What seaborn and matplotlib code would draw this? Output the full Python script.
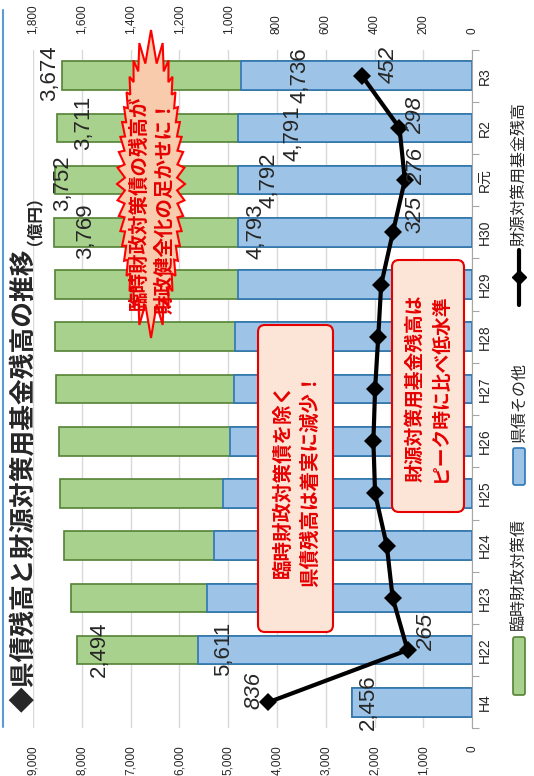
import numpy as np
import pandas as pd
import matplotlib
matplotlib.use("Agg")
import matplotlib.pyplot as plt
import seaborn as sns
from matplotlib.patches import Polygon, FancyBboxPatch
from matplotlib.lines import Line2D
from matplotlib.ticker import FuncFormatter

# ---------------- data ----------------
categories = ['H4', 'H22', 'H23', 'H24', 'H25', 'H26', 'H27', 'H28', 'H29', 'H30', 'R元', 'R2', 'R3']
other_debt = [2456, 5611, 5434, 5295, 5115, 4961, 4891, 4855, 4807, 4793, 4792, 4791, 4736]      # 県債その他
rinzai_debt = [0, 2494, 2796, 3074, 3325, 3514, 3632, 3702, 3750, 3769, 3752, 3711, 3674]        # 臨時財政対策債
fund_balance = [836, 265, 326, 350, 398, 405, 398, 385, 373, 325, 276, 298, 452]                  # 財源対策用基金残高
bar_axis_ticks = [0, 1000, 2000, 3000, 4000, 5000, 6000, 7000, 8000, 9000]
line_axis_ticks = [0, 200, 400, 600, 800, 1000, 1200, 1400, 1600, 1800]

legend_labels = ['臨時財政対策債', '県債その他', '財源対策用基金残高']
title_main = '◆県債残高と財源対策用基金残高の推移'
title_unit = '（億円）'
burst_lines = ['臨時財政対策債の残高が', '財政健全化の足かせに！']
box1_lines = ['臨時財政対策債を除く', '県債残高は着実に減少！']
box2_lines = ['財源対策用基金残高は', 'ピーク時に比べ低水準']

# label placement (layout only): value-axis position, category offset
green_label_pos = {'H22': (7650, 0.02), 'H30': (7930, 0.03), 'R元': (8385, -0.05),
                   'R2': (7965, 0.10), 'R3': (8664, 0.05)}
blue_label_pos = {'H4': (2131, 0.0), 'H22': (5100, 0.02), 'H30': (4436, 0.03),
                  'R元': (4158, 0.0), 'R2': (3668, -0.10), 'R3': (3529, 0.01)}
line_label_pos = {'H4': (894, 0.23), 'H22': (186, 0.34), 'H30': (234, 0.35),
                  'R元': (226, 0.27), 'R2': (232, 0.23), 'R3': (342, 0.21)}

df = pd.DataFrame({
    'cat': categories,
    'other': other_debt,
    'rinzai': rinzai_debt,
    'fund': fund_balance,
})
df['total'] = df['other'] + df['rinzai']

# ---------------- style ----------------
sns.set_style('white')
plt.rcParams['font.family'] = ['Liberation Sans', 'Noto Sans CJK JP', 'DejaVu Sans']
CJK = ['Noto Sans CJK JP', 'DejaVu Sans']

GREEN, GREEN_E = '#a9d18e', '#548235'
BLUE, BLUE_E = '#9dc3e6', '#2e75b6'
RED = '#e60000'

W, H = 534, 776
fig = plt.figure(figsize=(W / 100, H / 100), dpi=100)
T = fig.dpi_scale_trans


def P(x, y):
    return (x / 100, (H - y) / 100)


ax_l, ax_r, ax_t, ax_b = 33, 472.2, 49.6, 728.4
ax = fig.add_axes([ax_l / W, 1 - ax_b / H, (ax_r - ax_l) / W, (ax_b - ax_t) / H])

sns.barplot(data=df, x='total', y='cat', orient='h', color=GREEN, edgecolor=GREEN_E,
            linewidth=1.2, width=0.55, saturation=1, ax=ax, zorder=2)
sns.barplot(data=df, x='other', y='cat', orient='h', color=BLUE, edgecolor=BLUE_E,
            linewidth=1.2, width=0.55, saturation=1, ax=ax, zorder=2)

ax2 = ax.twiny()
positions = np.arange(len(categories))
sns.lineplot(x=df['fund'].values, y=positions, ax=ax2, estimator=None, sort=False,
             color='black', linewidth=3, marker='D', markersize=9, markeredgewidth=0)

fmt = FuncFormatter(lambda v, p: f"{int(round(v)):,}")

ax.set_xlim(9000, 0)
ax.set_xticks(bar_axis_ticks)
ax.xaxis.set_major_formatter(fmt)
ax.tick_params(axis='x', length=0, pad=12, labelsize=8.5, labelrotation=90)
ax.yaxis.tick_right()
ax.set_yticks(positions)
ax.set_yticklabels(categories, rotation=90, va='center')
ax.tick_params(axis='y', which='major', length=0, pad=4, labelsize=10)
ax.set_yticks(np.arange(-0.5, len(categories), 1), minor=True)
ax.tick_params(axis='y', which='minor', length=5, width=0.8, color='#a6a6a6',
               direction='out', right=True, left=False)
for s in ['top', 'left', 'bottom']:
    ax.spines[s].set_visible(False)
ax.spines['right'].set_color('#a6a6a6')
ax.grid(axis='x', color='#d9d9d9', linewidth=1)
ax.grid(axis='y', visible=False)
ax.set_axisbelow(True)
ax.set_xlabel('')
ax.set_ylabel('')

ax2.set_xlim(1800, 0)
ax2.set_xticks(line_axis_ticks)
ax2.xaxis.set_major_formatter(fmt)
ax2.tick_params(axis='x', length=0, pad=11, labelsize=8.5, labelrotation=90)
for s in ax2.spines.values():
    s.set_visible(False)
ax2.set_xlabel('')
ax2.set_ylabel('')
ax2.grid(False)
ax.set_ylim(-0.5, len(categories) - 0.5)

# data labels
for cat, (v, dp) in green_label_pos.items():
    i = categories.index(cat)
    ax.text(v, i + dp, f"{rinzai_debt[i]:,}", rotation=90, ha='center', va='center',
            fontsize=16, zorder=5)
for cat, (v, dp) in blue_label_pos.items():
    i = categories.index(cat)
    ax.text(v, i + dp, f"{other_debt[i]:,}", rotation=90, ha='center', va='center',
            fontsize=16, zorder=5)
for cat, (v, dp) in line_label_pos.items():
    i = categories.index(cat)
    ax2.text(v, i + dp, f"{fund_balance[i]:,}", rotation=90, ha='center', va='center',
             fontsize=16, style='italic', zorder=5)

# ---------------- decorations ----------------
# explosion shape (star-shaped around its centre, so it never self-intersects)
cx, cy, brx, bry = 151, 184, 30, 138
tt = np.linspace(0, 2 * np.pi, 6000)
ex, ey = brx * np.cos(tt), bry * np.sin(tt)
seg = np.hypot(np.diff(ex), np.diff(ey))
s_cum = np.concatenate([[0], np.cumsum(seg)])
n_pts = 80
s_pick = np.linspace(0, s_cum[-1], n_pts, endpoint=False)
t_pick = np.interp(s_pick, s_cum, tt)
bx, by = brx * np.cos(t_pick), bry * np.sin(t_pick)
r0 = np.hypot(bx, by)
ux, uy = bx / r0, by / r0
amp = 8 + 24 * np.abs(np.sin(t_pick)) ** 6
sign = np.where(np.arange(n_pts) % 2 == 0, 0.5, -0.5)
px_ = cx + (r0 + sign * amp) * ux
py_ = cy + (r0 + sign * amp) * uy
poly = Polygon([P(a, b) for a, b in zip(px_, py_)], closed=True, transform=T,
               facecolor='#f8cbad', edgecolor='#ff0000', linewidth=1.5, zorder=6)
fig.add_artist(poly)
fig.text(*P(139, 203), burst_lines[0], transform=T, rotation=90, ha='center', va='center',
         fontsize=14, color=RED, weight='bold', family=CJK, zorder=7)
fig.text(*P(165, 207), burst_lines[1], transform=T, rotation=90, ha='center', va='center',
         fontsize=14, color=RED, weight='bold', family=CJK, zorder=7)

# rounded boxes
for (x0, y0, x1, y1), lines, xs, yc, fs in [
        ((258, 325, 333, 632), box1_lines, (283, 310), 480, 14),
        ((392, 260, 464, 512), box2_lines, (415, 440), 388, 13.5)]:
    box = FancyBboxPatch(P(x0, y1), (x1 - x0) / 100, (y1 - y0) / 100,
                         boxstyle='round,pad=0,rounding_size=0.07', transform=T,
                         facecolor='#fce4d6', edgecolor=RED, linewidth=1.5, zorder=6)
    fig.add_artist(box)
    for xline, txt in zip(xs, lines):
        fig.text(*P(xline, yc), txt, transform=T, rotation=90, ha='center', va='center',
                 fontsize=fs, color=RED, weight='bold', family=CJK, zorder=7)

# title
fig.text(*P(24, 249), title_main, transform=T, rotation=90, rotation_mode='anchor',
         ha='right', va='center', fontsize=18.5, weight='bold', family=CJK)
fig.text(*P(26, 245), title_unit, transform=T, rotation=90, rotation_mode='anchor',
         ha='left', va='center', fontsize=12, weight='bold', family=CJK)
fig.add_artist(Line2D([0.025, 0.025], [(H - 10) / 100, (H - 727) / 100], transform=T,
                      color='#5b9bd5', linewidth=1.5))

# legend (manual, rotated)
lx = 519
for (y0, y1), fc, ec in [((637, 695), GREEN, GREEN_E), ((448, 485), BLUE, BLUE_E)]:
    fig.add_artist(FancyBboxPatch(P(lx - 6, y1), 0.12, (y1 - y0) / 100,
                                  boxstyle='round,pad=0,rounding_size=0.02', transform=T,
                                  facecolor=fc, edgecolor=ec, linewidth=1.2))
fig.add_artist(Line2D([lx / 100, lx / 100], [(H - 305) / 100, (H - 250) / 100], transform=T,
                      color='black', linewidth=3))
fig.add_artist(Line2D([lx / 100], [(H - 277) / 100], transform=T, color='black',
                      marker='D', markersize=7, linewidth=0))
for ystart, txt in zip([630, 443, 246], legend_labels):
    fig.text(*P(lx, ystart), txt, transform=T, rotation=90, rotation_mode='anchor',
             ha='left', va='center', fontsize=11.5, family=CJK)

fig.savefig('out.png', dpi=100)
